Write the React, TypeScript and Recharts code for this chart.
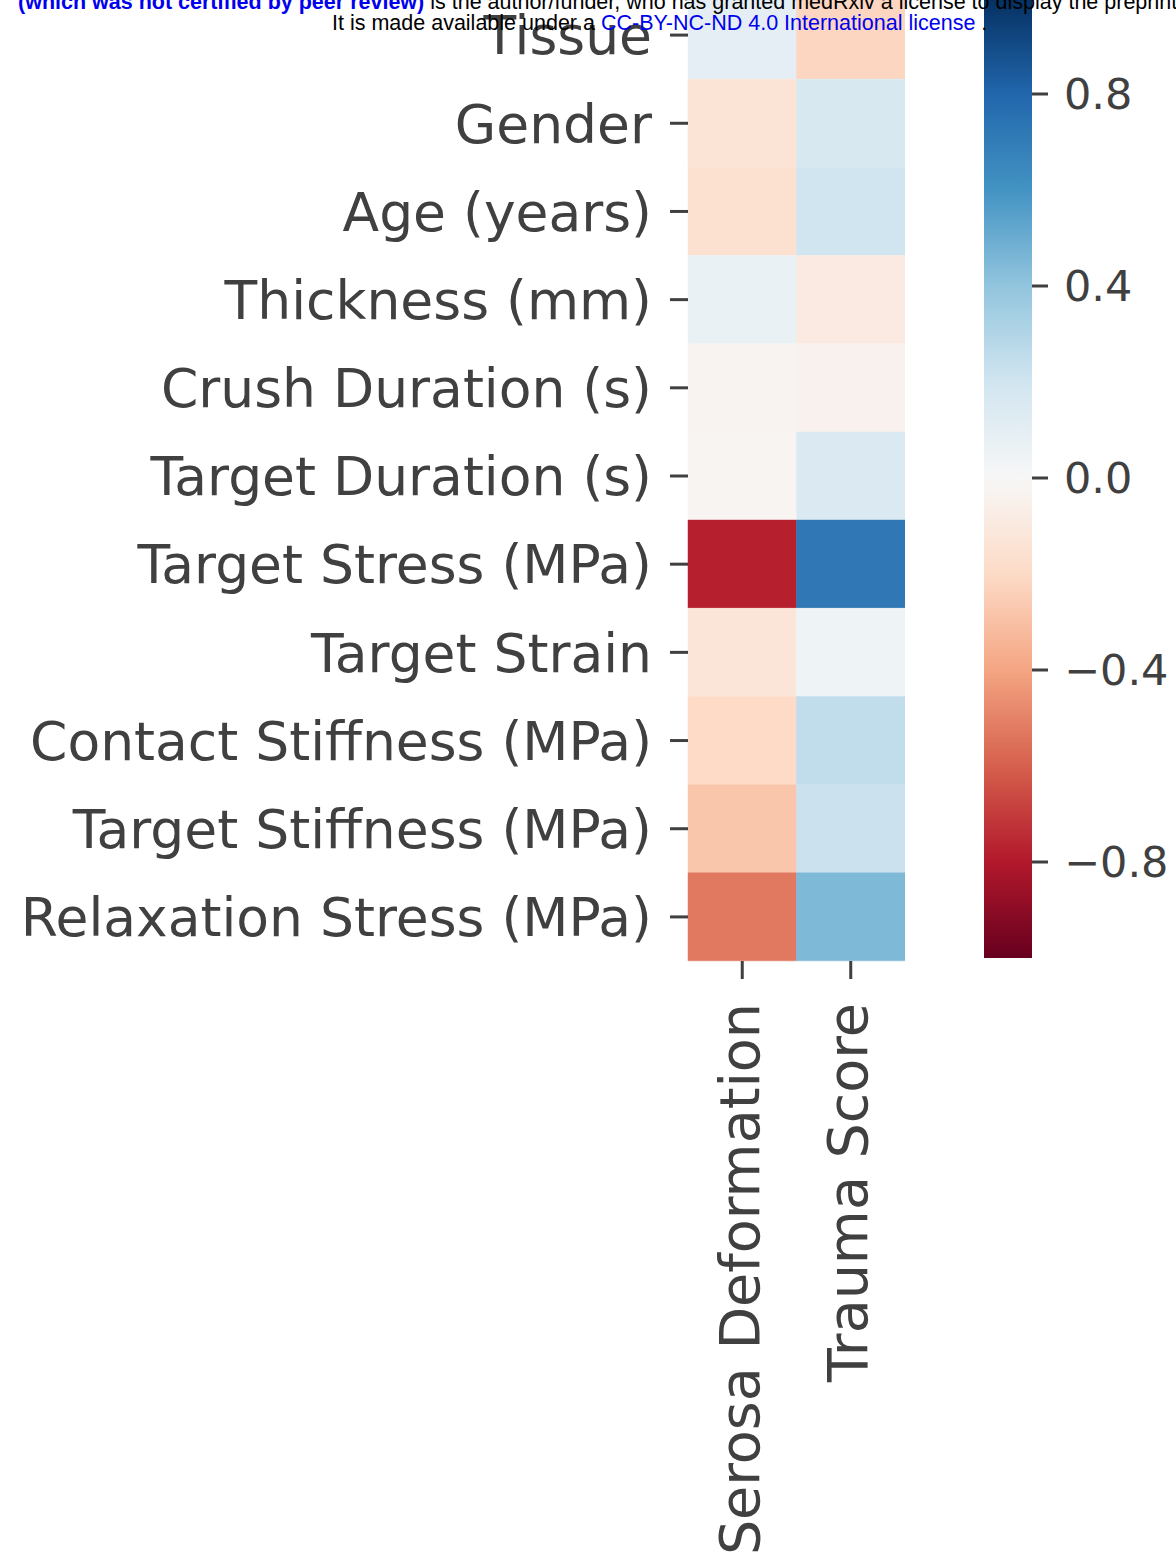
import { BarChart, Bar, XAxis, YAxis, Cell } from "recharts";

const ROWS = [
  "Tissue",
  "Gender",
  "Age (years)",
  "Thickness (mm)",
  "Crush Duration (s)",
  "Target Duration (s)",
  "Target Stress (MPa)",
  "Target Strain",
  "Contact Stiffness (MPa)",
  "Target Stiffness (MPa)",
  "Relaxation Stress (MPa)",
];
const COLUMNS = ["Serosa Deformation", "Trauma Score"];

// correlation values, top row first
const SEROSA = [0.1, -0.14, -0.16, 0.07, -0.03, -0.02, -0.78, -0.13, -0.2, -0.28, -0.53];
const TRAUMA = [-0.22, 0.17, 0.2, -0.09, -0.04, 0.15, 0.72, 0.05, 0.25, 0.22, 0.45];

const CBAR_TICKS = [-0.8, -0.4, 0, 0.4, 0.8];

// RdBu_r, ColorBrewer stops from -1 to +1
const RDBU_R = [
  "#67001f", "#b2182b", "#d6604d", "#f4a582", "#fddbc7", "#f7f7f7",
  "#d1e5f0", "#92c5de", "#4393c3", "#2166ac", "#053061",
];

const TEXT = "#404040";
const FONT = "DejaVu Sans";

function hexToRgb(h: string) {
  const n = parseInt(h.slice(1), 16);
  return [(n >> 16) & 255, (n >> 8) & 255, n & 255];
}

function rdbu(v: number) {
  const t = Math.max(0, Math.min(1, (v + 1) / 2)) * (RDBU_R.length - 1);
  const i = Math.min(Math.floor(t), RDBU_R.length - 2);
  const f = t - i;
  const a = hexToRgb(RDBU_R[i]);
  const b = hexToRgb(RDBU_R[i + 1]);
  const c = a.map((x, k) => Math.round(x + (b[k] - x) * f));
  return `rgb(${c[0]},${c[1]},${c[2]})`;
}

const heatData = ROWS.map((row, i) => ({
  row,
  serosa: 1,
  trauma: 1,
  serosaVal: SEROSA[i],
  traumaVal: TRAUMA[i],
}));

const cbarData = [{ name: "cbar", range: [-1, 1] }];

function RowTick({ x, y, payload }: any) {
  return (
    <text x={x + 2} y={y} dy="0.36em" textAnchor="end" fontSize={53.5} fontFamily={FONT} fill={TEXT}>
      {payload.value}
    </text>
  );
}

function ColTick({ x, y, payload }: any) {
  const label = COLUMNS[Math.floor(payload.value)];
  return (
    <text
      x={x}
      y={y}
      dy="0.3em"
      textAnchor="end"
      transform={`rotate(-90, ${x}, ${y})`}
      fontSize={55.5}
      fontFamily={FONT}
      fill={TEXT}
    >
      {label}
    </text>
  );
}

function CbarTick({ x, y, payload }: any) {
  const v = payload.value as number;
  const s = (v < 0 ? "\u2212" : "") + Math.abs(v).toFixed(1);
  return (
    <text x={x} y={y} dy="0.36em" textAnchor="start" fontSize={43} fontFamily={FONT} fill={TEXT}>
      {s}
    </text>
  );
}

export default function App() {
  return (
    <div style={{ position: "absolute", left: 0, top: 0, width: 1176, height: 1563, overflow: "hidden", background: "#fff" }}>
      <div style={{ position: "absolute", left: 0, top: -9 }}>
        <BarChart
          width={905}
          height={1580}
          data={heatData}
          layout="vertical"
          barCategoryGap={0}
          barGap={0}
          margin={{ top: 0, right: 0, bottom: 0, left: 0 }}
        >
          <YAxis
            type="category"
            dataKey="row"
            width={688}
            axisLine={false}
            tickSize={18}
            tickMargin={20}
            tickLine={{ stroke: TEXT, strokeWidth: 3 }}
            tick={<RowTick />}
            interval={0}
          />
          <XAxis
            type="number"
            domain={[0, 2]}
            ticks={[0.5, 1.5]}
            height={610}
            axisLine={false}
            tickSize={18}
            tickMargin={24}
            tickLine={{ stroke: TEXT, strokeWidth: 3 }}
            tick={<ColTick />}
          />
          <Bar dataKey="serosa" stackId="a" isAnimationActive={false}>
            {heatData.map((d, i) => (
              <Cell key={`s-${i}`} fill={rdbu(d.serosaVal)} stroke={rdbu(d.serosaVal)} strokeWidth={0.5} />
            ))}
          </Bar>
          <Bar dataKey="trauma" stackId="a" isAnimationActive={false}>
            {heatData.map((d, i) => (
              <Cell key={`t-${i}`} fill={rdbu(d.traumaVal)} stroke={rdbu(d.traumaVal)} strokeWidth={0.5} />
            ))}
          </Bar>
        </BarChart>
      </div>

      <div style={{ position: "absolute", left: 984, top: -2 }}>
        <BarChart
          width={192}
          height={960}
          data={cbarData}
          barCategoryGap={0}
          margin={{ top: 0, right: 0, bottom: 0, left: 0 }}
        >
          <defs>
            <linearGradient id="cbarGrad" x1="0" y1="1" x2="0" y2="0">
              {RDBU_R.map((c, i) => (
                <stop key={c} offset={`${(i / (RDBU_R.length - 1)) * 100}%`} stopColor={c} />
              ))}
            </linearGradient>
          </defs>
          <XAxis dataKey="name" hide />
          <YAxis
            orientation="right"
            type="number"
            domain={[-1, 1]}
            ticks={CBAR_TICKS}
            width={144}
            axisLine={false}
            tickSize={16}
            tickMargin={16}
            tickLine={{ stroke: TEXT, strokeWidth: 3 }}
            tick={<CbarTick />}
          />
          <Bar dataKey="range" fill="url(#cbarGrad)" isAnimationActive={false} />
        </BarChart>
      </div>

      <svg
        width={1176}
        height={40}
        style={{ position: "absolute", left: 0, top: 0, pointerEvents: "none" }}
      >
        <text x={18} y={9} fontSize={21.5} fontFamily="Liberation Sans" fill="#000">
          <tspan fill="#0000ee" fontWeight="bold">(which was not certified by peer review)</tspan>
          <tspan> is the author/funder, who has granted medRxiv a license to display the preprint in perpetuity.</tspan>
        </text>
        <text x={332} y={30} fontSize={21.5} fontFamily="Liberation Sans" fill="#000">
          <tspan>It is made available under a </tspan>
          <tspan fill="#0000ee">CC-BY-NC-ND 4.0 International license</tspan>
          <tspan> .</tspan>
        </text>
      </svg>
    </div>
  );
}
